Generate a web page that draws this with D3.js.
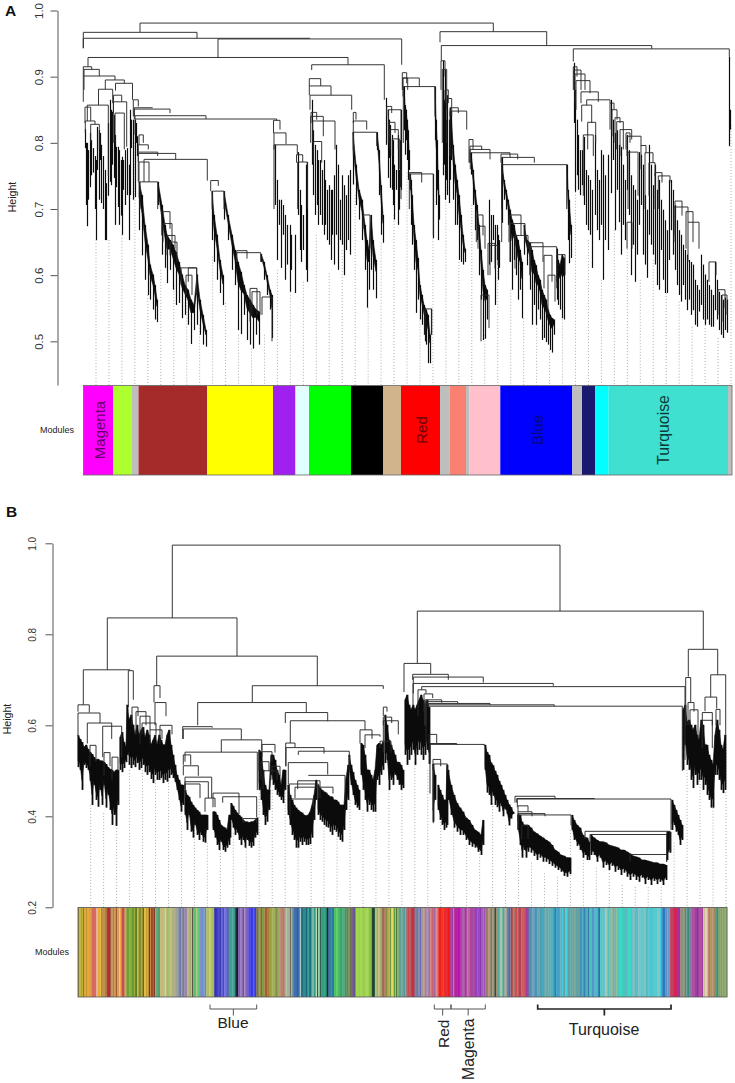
<!DOCTYPE html>
<html>
<head>
  <title>Module dendrograms</title>
  <meta charset="utf-8" />
  <script src="https://cdn.jsdelivr.net/npm/d3@7/dist/d3.min.js"></script>
  <style>
    html,body{margin:0;padding:0;background:#fff;}
    svg{display:block;}
    text{font-family:"Liberation Sans",Arial,sans-serif;}
  </style>
</head>
<body>
<svg id="fig" width="735" height="1083"></svg>
<script>
// tree merges: [left order, right order, merge height, left child height, right child height]
var linksA = [
[140,493.3,.981,.967,.968],[83.3,197,.967,.943,.958],[83.3,310,.958,.943,.958],[218,401.7,.957,.929,.918],
[440,546.7,.968,.952,.947],[441.3,651.7,.947,.924,.942],[573.3,729.3,.942,.923,.930],[88,348,.929,.915,.918],
[311.7,384.3,.918,.910,.865],[83.3,91.7,.915,.862,.911],[84,99.3,.911,.901,.901],[84,115,.901,.880,.895],
[105.3,124.3,.895,.881,.890],[98.5,112.7,.881,.857,.860],[87.3,108.3,.857,.833,.750],[85,90.7,.854,.830,.833],
[85.3,95,.833,.815,.828],[90.7,99.3,.828,.800,.790],[115.5,132.5,.890,.879,.865],[113.5,121.7,.872,.845,.862],
[113.3,126.7,.862,.800,.794],[115,124.3,.845,.800,.790],[133.3,138.3,.865,.840,.855],[134.3,170,.851,.836,.845],
[134.3,152.7,.853,.840,.853],[135,206,.841,.836,.836],[135,276.7,.836,.812,.834],[139,143.3,.812,.797,.800],
[138.3,148.3,.797,.786,.790],[138.3,157.7,.786,.741,.780],[138.3,175.7,.784,.771,.775],[144,207.3,.775,.741,.743],
[139,149,.771,.741,.741],[140,157.7,.741,.700,.700],[210.7,218.3,.743,.727,.735],[212.3,224,.727,.700,.700],
[161.7,170,.696,.660,.670],[163,172,.678,.650,.650],[167,175,.660,.630,.640],[170,177,.650,.630,.620],
[181,196.7,.611,.585,.590],[186,192,.600,.570,.570],[188.3,196.7,.611,.590,.570],[236.7,260.7,.634,.620,.620],
[236.7,247,.637,.620,.625],[250,257,.580,.530,.540],[252,260,.575,.540,.540],[262,272,.567,.540,.500],
[273.5,280,.834,.815,.820],[274,286,.815,.790,.798],[274,297.3,.797,.700,.782],[296.5,302.7,.782,.770,.771],
[297.7,307.3,.771,.700,.700],[309.3,320.7,.897,.886,.886],[309.3,331,.886,.872,.872],[310,351.7,.872,.850,.850],
[310.7,323.3,.840,.800,.810],[311,316.7,.846,.830,.835],[312.7,335,.833,.800,.790],[313.3,321.7,.802,.770,.770],
[353.3,356,.846,.830,.835],[353.3,366.7,.833,.800,.820],[353.3,376.7,.816,.780,.795],[363,370,.691,.670,.640],
[386.7,391.7,.855,.840,.845],[388.3,401,.850,.800,.715],[389,395,.831,.810,.815],[390,398.3,.820,.790,.790],
[392.3,399.3,.806,.780,.760],[402.3,406.7,.906,.880,.890],[403,407.7,.898,.870,.880],[402.7,419.3,.898,.885,.885],
[403.3,435,.885,.800,.840],[409.3,421.7,.755,.700,.740],[410,433.3,.753,.730,.660],[425,431.7,.549,.510,.510],
[441,445,.924,.880,.900],[442.3,446.7,.911,.800,.850],[445,448.3,.880,.860,.860],[446.7,451.7,.867,.800,.840],
[450,458.3,.853,.840,.845],[450,466.7,.848,.780,.820],[469,473,.805,.770,.790],[470,481.7,.795,.770,.790],
[470,490,.790,.770,.775],[470.3,510,.785,.760,.778],[501,517.7,.783,.770,.775],[501.7,534.3,.778,.700,.770],
[501.7,566.7,.767,.650,.700],[476.3,483,.691,.650,.660],[478,485,.674,.640,.640],[481,489,.570,.500,.520],
[488,495,.648,.600,.610],[490,498,.645,.600,.615],[509,521,.691,.650,.660],[510,525,.678,.620,.650],
[515,528,.660,.610,.640],[530,543,.649,.600,.620],[530,556.7,.643,.600,.590],[556.7,565,.631,.580,.600],
[544,552,.630,.580,.590],[548,555,.600,.540,.560],[573.3,577,.915,.880,.900],[574,581,.910,.880,.880],
[575,585,.904,.860,.880],[576,590,.894,.850,.875],[581,598.3,.877,.860,.862],[581.7,591.7,.857,.832,.830],
[587.7,595.7,.831,.790,.800],[583.3,593.3,.812,.720,.780],[586.7,610,.865,.857,.860],[610,614,.860,.820,.850],
[612,617,.850,.810,.835],[615,620,.838,.800,.830],[616.7,623.3,.832,.790,.790],[620,631.7,.820,.780,.805],
[626,630,.815,.790,.800],[627,641,.810,.780,.795],[628,638,.786,.700,.720],[641,646,.796,.760,.785],
[645,653,.785,.700,.770],[649,655,.770,.720,.750],[655,662,.755,.700,.740],[658.3,670,.750,.700,.740],
[675,682,.712,.660,.690],[674,688,.703,.650,.680],[686,693,.696,.640,.650],[688,699,.680,.620,.640],
[709,716,.620,.590,.600],[718,725,.578,.540,.550],[722,727,.570,.530,.540],[627,632,.680,.640,.640]
];
var hairsA = [
[85,.821,.792],[86,.800,.706],[87,.800,.674],[88,.789,.714],[90,.815,.733],[91,.804,.751],[93,.792,.755],[95,.780,.700],[96,.774,.653],
[97,.824,.759],[99,.819,.714],[100,.815,.774],[101,.797,.709],[103,.780,.700],[105,.759,.653],[106,.739,.653],[108,.830,.720],
[110,.865,.741],[111,.850,.736],[112,.847,.767],[114,.842,.747],[115,.812,.676],[116,.794,.733],[118,.794,.703],[119,.789,.676],
[121,.774,.690],[122,.779,.661],[123,.774,.729],[125,.789,.706],[127,.792,.721],[129,.767,.653],[130,.850,.721],[131,.835,.792],
[133,.835,.714],[135,.835,.718],[136,.830,.800],[137,.810,.780],
[275,.797,.706],[277,.744,.623],[279,.714,.676],[281,.714,.611],[283,.706,.661],[285,.691,.593],[287,.676,.616],[290,.676,.575],
[291,.661,.608],[295,.661,.573],[298,.786,.691],[300,.729,.638],[301,.706,.620],[303,.691,.638],[306,.767,.608],[307,.771,.590],
[312,.865,.767],[313,.819,.721],[315,.797,.691],[317,.789,.706],[318,.774,.676],[320,.774,.691],[322,.759,.676],[324,.774,.661],
[325,.744,.676],[327,.729,.653],[329,.736,.646],[331,.729,.623],[332,.729,.661],[334,.751,.616],[336,.797,.661],[338,.767,.608],
[340,.714,.653],[342,.751,.646],[344,.736,.600],[346,.721,.638],[348,.751,.653],[350,.759,.631],
[386,.868,.797],[388,.850,.747],[389,.835,.777],[390,.827,.732],[392,.812,.729],[393,.804,.706],[394,.767,.684],[396,.759,.729],
[398,.812,.676],[399,.759,.699],[400,.804,.733],[401,.850,.729],[433.3,.753,.656],[431,.549,.510],[425,.549,.500],
[443,.924,.751],[444,.865,.767],[445,.910,.714],[446,.835,.744],[447,.872,.721],[449,.835,.709],[450,.853,.744],
[489,.714,.616],[491,.691,.620],[493,.691,.653],[495,.676,.555],[497,.676,.623],[498,.661,.593],[499,.653,.611],[502,.778,.679],
[574,.921,.830],[575,.880,.726],[577,.835,.751],[578,.812,.729],[580,.789,.721],[582,.789,.736],[584,.809,.706],[586,.759,.676],
[588,.751,.668],[590,.744,.661],[592,.729,.611],[595,.812,.691],[597,.759,.668],[599,.744,.653],[601,.789,.676],[603,.782,.593],
[605,.751,.653],[608,.782,.638],[611,.865,.724],[613,.835,.774],[615,.815,.668],[617,.819,.729],[619,.797,.680],[621,.794,.631],
[623,.767,.676],[625,.744,.653],[627,.812,.729],[629,.789,.691],[631,.751,.600],[633,.736,.646],[635,.729,.590],[637,.714,.631],
[639,.786,.676],[641,.782,.706],[643,.767,.631],[645,.721,.616],[647,.699,.596],[649,.797,.661],[651,.767,.646],[653,.736,.631],
[655,.767,.616],[657,.729,.585],[659,.744,.578],[661,.714,.638],[663,.699,.593],[665,.683,.573],[667,.668,.573],[669,.744,.623],
[671,.744,.668],[673,.729,.631],[675,.706,.608],[677,.683,.585],[679,.668,.570],[681,.661,.560],[683,.646,.585],[685,.638,.563],
[687,.631,.547],[689,.623,.563],[691,.620,.540],[693,.616,.547],[695,.593,.525],[697,.585,.522],[699,.578,.545],[701,.631,.555],
[703,.616,.533],[705,.601,.525],[707,.593,.533],[709,.585,.525],[711,.578,.522],[713,.570,.522],[715,.620,.547],[717,.593,.533],
[719,.575,.517],[721,.570,.510],[723,.563,.505],[725,.566,.517],[727,.563,.513],[729,.930,.795],[730,.850,.820]
];
// dense runs of leaves: [order, top of the run, lowest leaf]
var massesA = [
[[139,.741,.668],[142,.721,.630],[145,.676,.593],[148,.646,.570],[150,.616,.563],[153,.601,.548],[155,.585,.533],[157,.563,.529]],
[[158,.741,.706],[162,.706,.631],[165,.676,.611],[167,.661,.588],[170,.653,.608],[173,.646,.578],[176,.635,.555],[179,.620,.558],[182,.601,.535],[185,.585,.540],[188,.578,.525],[191,.563,.496],[194,.555,.517],[197,.601,.525],[200,.563,.510],[203,.540,.495],[206,.517,.492]],
[[212,.727,.653],[214,.691,.620],[217,.661,.593],[220,.623,.573],[223,.600,.555]],
[[224,.727,.684],[228,.691,.653],[232,.661,.608],[235,.638,.585],[238,.620,.517],[241,.605,.511],[244,.585,.540],[247,.570,.502],[250,.563,.495],[253,.555,.489],[256,.548,.510],[259,.545,.495]],
[[261,.632,.620],[264,.620,.593],[267,.600,.570],[270,.578,.548],[272,.570,.505]],
[[353,.816,.737],[356,.767,.706],[359,.729,.684],[362,.714,.653],[365,.676,.608],[367,.653,.551],[369,.638,.578],[371,.691,.608],[373,.653,.578],[376,.623,.565]],
[[377,.816,.789],[379,.789,.721],[381,.736,.661],[383,.691,.649]],
[[404,.885,.819],[405,.857,.782],[406,.850,.804],[407,.835,.774],[408,.819,.744],[409,.789,.759]],
[[410,.753,.729],[411,.744,.676],[412,.721,.646],[414,.676,.608],[416,.653,.543],[418,.626,.563],[420,.585,.533],[422,.570,.525],[424,.555,.510],[426,.548,.495],[428,.540,.467],[430,.510,.467]],
[[435,.885,.804],[436,.835,.706],[437,.804,.729],[438,.759,.653],[439,.721,.684]],
[[451,.848,.774],[453,.797,.714],[455,.767,.676],[457,.744,.676],[459,.721,.623],[461,.691,.620],[463,.661,.616],[465,.640,.620]],
[[471,.785,.752],[473,.759,.706],[475,.729,.668],[477,.706,.653],[479,.676,.600],[481,.638,.563],[483,.608,.502],[485,.585,.504],[487,.578,.533]],
[[502,.767,.744],[504,.744,.714],[506,.729,.699],[508,.714,.676],[510,.699,.620],[512,.684,.578],[514,.676,.623],[516,.661,.600],[518,.653,.563],[520,.638,.578],[522,.620,.535]],
[[524,.676,.631],[527,.653,.615],[530,.649,.578],[532,.638,.525],[534,.623,.555],[536,.615,.525],[538,.600,.548],[540,.593,.533],[542,.578,.502],[544,.570,.505],[546,.563,.499],[548,.548,.495],[550,.540,.487],[552,.535,.483],[554,.533,.510]],
[[557,.640,.563],[558,.623,.555],[560,.615,.548],[562,.631,.535],[564,.626,.533]],
[[567,.767,.729],[568,.729,.653],[569,.714,.618],[571,.676,.626]]
];
var linksB = [
[172.3,560,.996,.836,.851],[107.3,237,.836,.722,.752],[83.3,130,.722,.645,.720],[128.3,133.3,.720,.640,.656],
[78,89.3,.645,.630,.628],[78,100,.627,.576,.605],[87.3,111.7,.605,.560,.570],[102.7,121.7,.598,.530,.530],
[90,96,.556,.510,.520],[104,110,.540,.490,.510],[112,118,.530,.480,.500],[132,138,.640,.600,.620],
[136,146,.630,.580,.600],[140,150,.620,.560,.590],[142,156,.605,.580,.580],[150,162,.590,.560,.570],
[156.7,317.3,.752,.687,.687],[252.3,383.3,.687,.650,.680],[154,160,.687,.650,.660],[155,166,.650,.600,.620],
[160,172,.600,.560,.580],[197.7,306.3,.650,.600,.628],[182.7,212.3,.597,.570,.595],[183.3,241.3,.592,.570,.568],
[221.3,261.7,.568,.541,.545],[185,257.3,.541,.520,.458],[183.3,190.7,.535,.513,.513],[183.3,198.3,.511,.490,.489],
[185,211.7,.486,.460,.440],[185,208.3,.476,.450,.440],[185,200,.471,.440,.440],[213,239,.451,.420,.405],
[222.7,256.7,.443,.430,.398],[243,256.7,.395,.385,.385],[205,215,.440,.410,.420],[262,275,.558,.530,.540],
[259,272,.542,.500,.520],[261,269,.520,.480,.500],[263,277,.500,.460,.480],[272,280,.510,.480,.490],
[285.3,327.7,.628,.605,.609],[290.3,365,.610,.561,.590],[285.7,295,.561,.510,.551],[286,324,.551,.510,.538],
[298.3,349.3,.543,.535,.500],[288.3,327.7,.518,.470,.492],[308.3,345,.490,.490,.436],[297.7,320,.478,.460,.440],
[289.3,318.3,.471,.440,.440],[295,333,.464,.440,.450],[290,313.3,.438,.400,.420],[360,372,.590,.560,.570],
[365,380,.579,.550,.575],[380,391,.565,.550,.540],[383.3,387,.640,.620,.630],[383.3,391.7,.618,.600,.605],
[383.3,398.3,.610,.540,.580],[417.3,703.3,.851,.736,.767],[404,430.7,.736,.673,.713],[412.7,448.3,.712,.700,.700],
[413.3,483.3,.706,.670,.694],[413,553.3,.692,.640,.687],[421.7,685,.685,.678,.524],[418,426,.678,.620,.670],
[424,432.7,.669,.630,.660],[425,441.7,.656,.600,.650],[425,457.7,.652,.600,.648],[425,490,.648,.600,.645],
[426,554.3,.645,.600,.642],[426,682.3,.642,.557,.500],[429,436.7,.580,.560,.560],[430,456.7,.560,.520,.557],
[430,484.3,.558,.450,.555],[433,440.7,.525,.500,.510],[433.3,447.3,.515,.385,.500],[515,555,.444,.430,.440],
[516.7,594.3,.439,.430,.438],[517.3,671,.438,.420,.370],[518,528,.423,.410,.410],[518,532,.410,.390,.400],
[518,545,.406,.390,.400],[518,571,.403,.370,.380],[521.7,528,.380,.350,.350],[585,670,.367,.350,.320],
[590,666.7,.360,.340,.300],[630,666.7,.316,.300,.300],[688.3,717.7,.767,.707,.711],[685.7,690.7,.705,.600,.650],
[688,694,.650,.600,.630],[690,698,.634,.600,.570],[710.7,725.7,.711,.662,.579],[705,716.7,.662,.631,.637],
[702.3,712.3,.628,.600,.600],[702.3,712.3,.611,.550,.550],[716,720,.635,.600,.600]
];
var massesB = [
[[78,.578,.508],[80,.570,.502],[82,.563,.458],[84,.552,.513],[86,.557,.506],[88,.548,.502],[90,.541,.478],[92,.537,.425],[94,.530,.469],[96,.524,.436],[98,.526,.421],[100,.522,.458],[102,.522,.425],[104,.519,.469],[106,.515,.419],[108,.508,.447],[110,.504,.414],[112,.502,.381],[114,.497,.403],[116,.502,.379],[118,.502,.425]],
[[120,.574,.502],[122,.585,.497],[124,.563,.506],[126,.552,.519],[127,.645,.535],[129,.612,.513],[131,.623,.506],[133,.601,.513],[135,.579,.508],[137,.601,.517],[139,.579,.502],[141,.590,.506],[143,.596,.513],[145,.574,.497],[147,.590,.491],[149,.579,.497],[151,.557,.482],[153,.568,.473],[155,.579,.491],[157,.557,.480],[159,.579,.480],[161,.568,.484],[163,.557,.473],[165,.557,.480],[167,.579,.476],[169,.590,.484],[171,.557,.491],[173,.535,.484],[175,.513,.476],[177,.491,.458],[179,.480,.436],[181,.469,.410],[183,.469,.425]],
[[185,.458,.403],[187,.447,.370],[189,.443,.403],[191,.432,.366],[193,.425,.353],[195,.419,.381],[197,.414,.359],[199,.410,.348],[201,.403,.359],[203,.403,.344],[205,.403,.342],[207,.403,.370]],
[[213,.410,.370],[215,.410,.353],[217,.403,.337],[219,.392,.326],[221,.381,.344],[223,.377,.326],[225,.375,.322],[227,.370,.331],[229,.403,.337],[230,.403,.353]],
[[231,.429,.392],[233,.423,.375],[235,.414,.359],[237,.408,.364],[239,.403,.348],[241,.399,.337],[243,.392,.348],[245,.388,.331],[247,.388,.348],[249,.386,.335],[251,.388,.331],[253,.388,.335],[255,.392,.353],[257,.397,.359]],
[[259,.546,.458],[261,.541,.436],[263,.502,.403],[265,.469,.381],[267,.458,.388],[269,.458,.414],[271,.535,.491],[273,.535,.469],[275,.524,.458],[277,.502,.447],[279,.491,.443],[281,.469,.436],[283,.502,.429],[285,.502,.458]],
[[288,.469,.403],[290,.447,.381],[292,.436,.359],[294,.425,.348],[296,.419,.331],[298,.414,.331],[300,.410,.344],[302,.408,.337],[304,.403,.344],[306,.401,.337],[308,.403,.337],[310,.410,.339],[312,.425,.353],[314,.447,.392],[316,.480,.436]],
[[318,.469,.403],[320,.462,.392],[322,.458,.388],[324,.454,.381],[326,.452,.377],[328,.447,.375],[330,.443,.366],[332,.443,.359],[334,.436,.370],[336,.436,.366],[338,.432,.355],[340,.425,.348],[342,.425,.344],[344,.425,.370],[346,.484,.414],[348,.513,.436]],
[[349,.535,.502],[351,.513,.469],[353,.497,.447],[355,.480,.425],[357,.469,.419],[359,.458,.414]],
[[361,.561,.491],[363,.557,.458],[365,.535,.436],[367,.502,.410],[369,.502,.425],[371,.491,.414],[373,.480,.410],[375,.502,.410],[377,.557,.480],[379,.561,.469],[381,.557,.491],[383,.563,.502]],
[[385,.623,.517],[387,.601,.524],[389,.568,.458],[391,.557,.480],[393,.546,.469],[395,.535,.491],[397,.519,.480],[399,.519,.469],[401,.513,.458],[403,.502,.462]],
[[405,.656,.535],[407,.667,.513],[409,.645,.524],[411,.634,.535],[413,.645,.546],[415,.634,.513],[417,.645,.535],[419,.656,.546],[421,.667,.535],[423,.656,.524],[425,.639,.535],[427,.656,.546],[429,.640,.515]],
[[433,.515,.388],[435,.491,.436]],
[[438,.469,.414],[440,.458,.392],[442,.447,.381],[444,.436,.370],[446,.436,.375],[447,.513,.381]],
[[448,.502,.436],[451,.469,.403],[454,.447,.375],[457,.429,.366],[460,.419,.359],[463,.410,.359],[466,.397,.348],[469,.392,.337],[472,.381,.333],[475,.370,.331],[478,.366,.322],[481,.359,.315],[483,.392,.337]],
[[485,.557,.502],[487,.541,.452],[489,.535,.447],[491,.518,.425],[493,.512,.445],[495,.500,.425],[497,.491,.420],[499,.478,.410],[501,.469,.423],[503,.458,.400],[505,.447,.415],[507,.436,.405],[509,.426,.380],[511,.420,.395],[513,.410,.405]],
[[518,.403,.370],[520,.403,.337],[522,.388,.309],[524,.381,.326],[526,.381,.309],[528,.381,.322],[531,.375,.320],[534,.366,.313],[537,.362,.304],[540,.357,.309],[543,.353,.300],[546,.348,.300],[549,.344,.295],[552,.337,.291],[555,.326,.287],[558,.322,.282],[561,.315,.278],[564,.313,.269],[567,.309,.267],[570,.309,.273]],
[[572,.403,.370],[574,.392,.348],[577,.381,.335],[580,.375,.326],[583,.359,.309],[585,.353,.315],[587,.353,.304],[589,.344,.304]],
[[591,.359,.315],[594,.353,.315],[597,.348,.300],[600,.344,.309],[603,.344,.287],[606,.342,.293],[609,.337,.282],[612,.335,.291],[615,.333,.278],[618,.331,.282],[621,.326,.271],[624,.326,.276],[627,.322,.267],[630,.318,.260],[633,.313,.267],[636,.311,.260],[639,.309,.256],[642,.304,.265],[645,.304,.251],[648,.302,.260],[651,.300,.249],[654,.298,.258],[657,.298,.251],[660,.295,.256],[663,.295,.249],[666,.293,.260]],
[[667,.366,.304],[670,.366,.320]],
[[672,.436,.370],[674,.425,.381],[676,.414,.366],[678,.403,.359],[680,.392,.337],[682,.381,.348]],
[[683,.634,.502],[685,.645,.557],[687,.608,.513],[689,.612,.502],[691,.601,.480],[693,.590,.462],[695,.601,.491],[697,.579,.469],[699,.568,.480],[701,.612,.480],[703,.601,.458],[705,.557,.469],[707,.557,.447],[709,.535,.436],[711,.524,.419],[713,.513,.419],[715,.579,.491],[717,.612,.491],[719,.590,.480],[721,.557,.458],[723,.546,.451],[725,.579,.458]]
];
// where the dotted guides meet the trees
var guidesA = [.653,.653,.661,.800,.570,.608,.585,.563,.525,.628,.558,.510,.489,.510,.608,.575,.590,.661,.603,.638,.721,.551,.649,.691,.755,.545,.656,.779,.620,.706,.510,.611,.578,.535,.525,.487,.533,.726,.653,.593,.668,.653,.593,.623,.573,.560,.522,.570,.505,.827];
var guidesB = [.425,.407,.381,.502,.502,.480,.480,.407,.370,.342,.326,.364,.331,.458,.458,.458,.331,.337,.375,.364,.436,.414,.458,.458,.458,.519,.502,.414,.375,.337,.324,.429,.381,.326,.298,.275,.267,.370,.311,.287,.282,.249,.245,.245,.245,.342,.502,.517,.419,.559];
var ticksA = [.5,.6,.7,.8,.9,1.0];
var ticksB = [.2,.4,.6,.8,1.0];
var modulesA = ['magenta','greenyellow','#bebebe','#a52a2a','yellow','#a020f0','lightcyan','lime','black','tan','red','#bebebe','salmon','#bebebe','pink','blue','#bebebe','midnightblue','cyan','turquoise','#bebebe'];
var modulesAEnd = [113,132,138.5,207,273,295.5,309,351,383.3,401,440,449.7,466,469.3,500.3,572.3,582,595.3,608.7,728,732];
var stripColorsB = ['#8f7d2e','#e6d83a','#a08a30','#d8cc40','#8a7a30','#e0a83a','#c8953a','#e4ac3c','#d8a040','#d9685f','#f0e0c0','#e8a838','#e8c040','#a88040','#c09050','#b07840','#b82a32','#8a5a30','#c49860','#a06030','#d89a50','#9a5020','#e0a060','#c88040','#f0d8a0','#e8a048','#c25050','#d0b050','#c89050','#6fa030','#82b040','#6a9a30','#a0a838','#58802a','#c8c038','#8a8a28','#b0a030','#5e6a20','#e0c030','#c09030','#e8c838','#7a3020','#d08838','#8a3a20','#b06030','#7a2a1a','#d0a040','#68a878','#50a070','#c8b878','#a8c068','#d8d0a0','#b8b070','#98c060','#c8c080','#a0b878','#b8a890','#a0a090','#8898b0','#6878a0','#a098a8','#7a7a9a','#9888a8','#b8b880','#a8a878','#c0b888','#403830','#60c070','#b0c880','#60c878','#8898c0','#7090d0','#90a8d0','#6888c8','#b0c060','#c0c870','#a8b860','#3030a8','#3838c0','#5050d0','#3030a0','#6868d8','#4848c8','#7070e0','#5858d0','#6060b8','#40a090','#48a098','#38988a','#282848','#181830','#8060b0','#9878c0','#7050a8','#a088c8','#8860b0','#4848e0','#3838e8','#5050f0','#3838d8','#807040','#70803a','#a89050','#607030','#889848','#60a060','#a8a060','#a06030','#b07038','#98a040','#80a038','#a8b050','#90a040','#70703a','#88a840','#a8a860','#c08070','#b87868','#a0b090','#d8e0c8','#808878','#a8b898','#505848','#b0c0a0','#7898a0','#808890','#4070b0','#3060a8','#5090b8','#b0c8c0','#207080','#308890','#186878','#40a0a0','#1c7080','#40a090','#a0d0b0','#30a080','#50c060','#e0f0d8','#102820','#60c080','#f0f8e8','#30a080','#102020','#30a080','#28a078','#102040','#182850','#3080a0','#4090b0','#3078a8','#50c060','#60d070','#48b858','#40a070','#48b078','#3a9868','#708050','#809060','#687848','#605080','#705888','#685090','#68b040','#a0d848','#80e030','#a8d850','#90c848','#a0d050','#a8d858','#88c048','#708040','#204030','#305038','#b8c078','#88b868','#c8c080','#a0b070','#98a070','#a06850','#b07860','#88903a','#a0a048','#c0b050','#70903a','#d8d060','#f0e058','#58a040','#a0c850','#50682a','#88b860','#60a090','#70a8a0','#5898a0','#80a890','#a07060','#c84858','#b86060','#c03040','#a83040','#8880a0','#6878a0','#8888a8','#5860a8','#a89090','#c0a080','#a080a8','#b098b0','#9878a0','#d08080','#c86070','#a068a8','#e09090','#e86050','#f02020','#e82818','#f85030','#f02828','#d83050','#f01818','#b03090','#c04880','#a040a0','#b070a0','#b820a0','#a818a8','#c830b0','#a060b0','#a868a8','#b030a0','#c080c0','#b868a0','#c040a8','#a048a0','#b05098','#9040c0','#a048c8','#8838b0','#a048b8','#b088b8','#a050b8','#888070','#a87868','#c08878','#909878','#807868','#a09878','#888870','#404838','#a09070','#50a8a0','#60b0a0','#a8c8a8','#50a098','#90b098','#a0a890','#7080b0','#4860a0','#a08898','#6050a0','#c03838','#a08878','#c85050','#d06060','#b84050','#c86060','#c05858','#b83098','#8850a0','#5090b0','#4888a8','#70a0b8','#5090b8','#3888a8','#60a8b8','#50a0b0','#6098a8','#48a8c0','#50a0a8','#70a8a0','#40a0b0','#68a8b0','#50b0b8','#3090c0','#1888b0','#40a0c8','#3098c8','#60b0c0','#30c8d8','#60a0a0','#40d0e0','#60a0a8','#58a8a8','#68a0a0','#80a898','#58a0b0','#70a090','#60a8b0','#4090c0','#60b0c0','#5098c0','#3088b0','#58a8c0','#68a8a8','#3078a0','#50c0c0','#5098c8','#3088c0','#50b8c8','#4090c0','#1878a8','#50c8c8','#60c0c0','#50c0d0','#a0c8b0','#50c0c0','#80b8a0','#98b898','#88a890','#78a8a8','#a0c098','#50c8c0','#40d8c0','#38d0c0','#40c8b8','#60b8c0','#40d8c8','#38d0c0','#60c0d0','#88c0b0','#60b8c8','#50c0d0','#80c0c0','#50c8d0','#60c0c0','#80c8c8','#58b8c0','#60c8d0','#40c8d8','#60c0c8','#50d0d0','#48c8d8','#80c8c0','#40d0d8','#3888c8','#2878c0','#6090c0','#7098c8','#5888b8','#c04060','#d82050','#c01850','#d02060','#a82098','#a030a0','#988878','#808870','#909878','#807868','#60a098','#388878','#8878a8','#b050a0','#a040a0','#9030a0','#b050a0','#a040a0','#d8c8a8','#c8b890','#e0d0b0','#c08878','#b87860','#a89858','#c09070','#a08858','#50a090','#488870','#70a068','#a0a878','#909868','#80a868','#98b070','#88a868'];
var stripWidthsB = [1.5,1,1.2,1,1.3,2,1.5,1.5,2.5,5,.8,2.5,1.2,1,3,2,3.3,1,2,1,1.5,1,1.5,1,.7,1.5,3,1,.8,3,2,2.7,1,2,1.5,2.5,1.5,1.5,2,1.5,1,1.5,1,1.5,1.5,1,.8,2,2.2,3,1.5,1.5,2,1.5,2,2,2,1.5,2,2,1,2,3,2,2,1,1,3,1,2.5,1,3,1,1.5,3,2,3,1.5,2,1.5,1.5,2,1.5,2,1.5,1,3.5,1.5,1.5,1.5,1.5,2,2,2,1,3,2,3,1.5,1.5,2,1,1.5,1,1,1,1,2.5,1.5,2.5,1,2,2,.8,1.5,1.5,2,2.5,2,.8,1,1.5,.8,1,1,1,3,2,1.5,.8,2.5,2,2,1.5,2,1.5,1,1.5,1,.8,.8,1,.7,1,.8,3,2.5,1,.8,2.5,1,2,2,1.5,2,3,2,2,2,1,2,1,1.5,1,1,2.5,1.2,2.5,1.5,2,3,2.5,.8,2,1,1.5,1.5,1.5,1.5,1,2,1.5,1.5,1.5,1.5,1,1.5,1,1.5,1,1,1.5,2.5,2,2,1,1.5,2,1.5,2,1.5,1.5,2,2,1,2,1.5,2,1.5,2,1.5,1.5,2.5,1.5,1.5,2.5,1.5,1,3,1,2,1,1,1.5,1,3,2.5,2,1,2,2,1,2,1,2,2,2.5,2,2,1.5,1,1.5,1.5,1.5,1,1.5,1.5,1.5,.8,1.5,2,1.5,.8,2,1.5,1.5,1.5,1.5,1.5,1,.8,1,2,2.5,1,3,3.5,1,1,2,2.5,1,2,2,1,2,1.5,1,2.5,1,2,1,2,3,1,2,3,1,2,1.5,1.5,2,3,2,1.5,2,1,2,1,2,1,.8,2,1.5,.8,1.5,2,2,1,3,.8,2,2,2,1,2,2,2,1.5,1.5,1.5,1,3,2,2,1,3,3,1,1,2,2,1.5,2,2,1.5,2,2,2,2,2,2,1,3,1.5,1,3,2,2,.8,3,2.5,1,1,1,1.5,2,1,1.5,1.5,1,2,2.5,3,2,2,3,1.5,1,1,2.5,1,1.5,2,1.5,2,1,1.5,1.5,1,1.5,2.5,2.3];

var svg = d3.select('#fig');

var xA = d3.scaleLinear().domain([83,732]).range([83,732]);
var yA = d3.scaleLinear().domain([1,.434]).range([10.5,385]);
var xB = d3.scaleLinear().domain([78,727]).range([78,727]);
var yB = d3.scaleLinear().domain([1,.2]).range([543.3,907.3]);

//draws one dendrogram: guides behind, then leaf runs, then merges on top
//solid = share of each leaf run that closes up into solid black
function drawTree(x,y,links,hairs,masses,guides,guideRange,bottom,solid,hairWidth){
  var g = svg.append('g');
  var gx = d3.scalePoint().domain(d3.range(guides.length)).range(guideRange);
  g.selectAll('.guide').data(guides).enter().append('line')
    .attr('x1',function(d,i){return gx(i)}).attr('x2',function(d,i){return gx(i)})
    .attr('y1',function(d){return y(d)}).attr('y2',bottom)
    .attr('stroke','#9a9a9a').attr('stroke-width',.8).attr('stroke-dasharray','1 2');
  var area = d3.area().x(function(d){return x(d[0])}).y0(function(d){return y(d[1])})
    .y1(function(d){return y(d[1])+(y(d[2])-y(d[1]))*solid});
  g.selectAll('.mass').data(masses).enter().append('path')
    .attr('d',area).attr('fill','#0c0c0c').attr('stroke','#0c0c0c').attr('stroke-width',.6);
  var leaves = hairs.concat(d3.merge(masses));
  g.selectAll('.hair').data(leaves).enter().append('line')
    .attr('x1',function(d){return Math.round(x(d[0]))+.5}).attr('x2',function(d){return Math.round(x(d[0]))+.5})
    .attr('y1',function(d){return y(d[1])}).attr('y2',function(d){return y(d[2])})
    .attr('stroke','#0c0c0c').attr('stroke-width',hairWidth);
  g.selectAll('.link').data(links).enter().append('path')
    .attr('d',function(d){
      return 'M'+x(d[0])+','+y(d[3])+'V'+y(d[2])+'H'+x(d[1])+'V'+y(d[4]);
    })
    .attr('fill','none').attr('stroke','#2b2b2b').attr('stroke-width',.95);
}

function drawAxis(y,ticks,axisX,labelX,fontSize){
  var g = svg.append('g').attr('transform','translate('+axisX+',0)')
    .call(d3.axisLeft(y).tickValues(ticks).tickFormat(d3.format('.1f')).tickSize(7).tickSizeOuter(0));
  g.select('.domain').attr('stroke','#555');
  g.selectAll('.tick line').attr('stroke','#555');
  g.selectAll('.tick text')
    .attr('x',0).attr('y',0).attr('dy',0)
    .attr('transform','translate('+(labelX-axisX)+',0) rotate(-90)')
    .attr('text-anchor','middle')
    .attr('font-family','"Liberation Sans",Arial,sans-serif')
    .attr('font-size',fontSize).attr('fill','#333');
}

function label(txt,x,y,size,opts){
  opts = opts || {};
  return svg.append('text').text(txt)
    .attr('transform','translate('+x+','+y+')'+(opts.rot?' rotate(-90)':''))
    .attr('text-anchor',opts.anchor||'start')
    .attr('font-size',size).attr('font-weight',opts.bold?'bold':'normal')
    .attr('fill',opts.fill||'#222');
}

drawTree(xA,yA,linksA,hairsA,massesA,guidesA,[96,731],385,.3,1.2);
drawTree(xB,yB,linksB,[],massesB,guidesB,[90.7,726],907,.8,1.8);
drawAxis(yA,ticksA,57.5,42.7,11.5);
drawAxis(yB,ticksB,52.5,36,10);

//module bars
var starts = [83.5].concat(modulesAEnd.slice(0,-1));
svg.append('g').selectAll('rect').data(modulesA).enter().append('rect')
  .attr('x',function(d,i){return xA(starts[i])})
  .attr('width',function(d,i){return xA(modulesAEnd[i])-xA(starts[i])})
  .attr('y',385.5).attr('height',89.5)
  .attr('fill',function(d){return d});
svg.append('rect').attr('x',83.5).attr('y',385.5).attr('width',648.5).attr('height',89.5)
  .attr('fill','none').attr('stroke','#666').attr('stroke-width',.8);

var cum = d3.cumsum(stripWidthsB);
var stripX = d3.scaleLinear().domain([0,cum[cum.length-1]]).range([78,727]);
svg.append('g').selectAll('rect').data(stripColorsB).enter().append('rect')
  .attr('x',function(d,i){return stripX(i?cum[i-1]:0)})
  .attr('width',function(d,i){return stripX(cum[i])-stripX(i?cum[i-1]:0)+.3})
  .attr('y',907.5).attr('height',89.5)
  .attr('fill',function(d){return d});
svg.append('rect').attr('x',78).attr('y',907.5).attr('width',649).attr('height',89.5)
  .attr('fill','none').attr('stroke','#555').attr('stroke-width',.8);

//brackets under panel B
var brackets = [[210,256.7,1],[434.3,451,1],[451,485.3,1],[537.7,671,1.7]];
svg.append('g').selectAll('path').data(brackets).enter().append('path')
  .attr('d',function(d){
    var m = (d[0]+d[1])/2;
    return 'M'+d[0]+',1004.5V1009H'+d[1]+'V1004.5M'+m+',1009V1015.5';
  })
  .attr('fill','none').attr('stroke',function(d){return d[2]>1?'#222':'#555'}).attr('stroke-width',function(d){return d[2]});

//text
label('A',5,16,15.5,{bold:true,fill:'#111'});
label('B',6,517,15.5,{bold:true,fill:'#111'});
label('Height',16,197,10.6,{rot:true,anchor:'middle'});
label('Height',11,719,10.6,{rot:true,anchor:'middle'});
label('Modules',40,433,9);
label('Modules',35,954.5,9);
label('Magenta',105,430,15,{rot:true,anchor:'middle',fill:'#650068'});
label('Red',426.7,430,15,{rot:true,anchor:'middle',fill:'#700008'});
label('Blue',543,430,15,{rot:true,anchor:'middle',fill:'#080878'});
label('Turquoise',669.3,430,15.8,{rot:true,anchor:'middle',fill:'#0e3a36'});
label('Blue',233,1028,15.5,{anchor:'middle'});
label('Red',448.5,1048,15.5,{rot:true});
label('Magenta',473.5,1080,15.8,{rot:true});
label('Turquoise',604,1035,16,{anchor:'middle'});
</script>
</body>
</html>
